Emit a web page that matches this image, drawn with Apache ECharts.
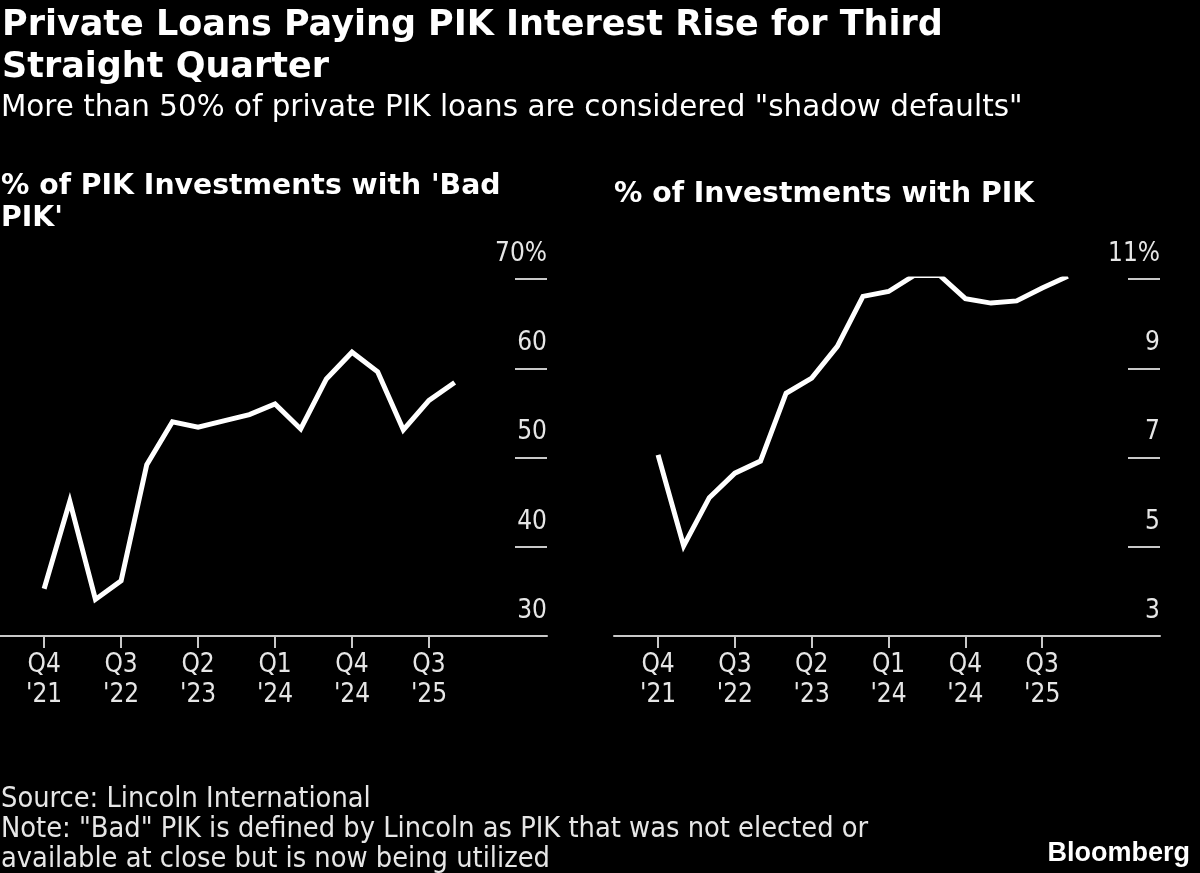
<!DOCTYPE html>
<html>
<head>
<meta charset="utf-8">
<title>Private Loans Paying PIK Interest</title>
<script src="https://cdn.jsdelivr.net/npm/echarts@6/dist/echarts.min.js"></script>
<style>
  html, body { margin: 0; padding: 0; background: #000; }
  #main { width: 1200px; height: 873px; }
</style>
</head>
<body>
<div id="main"></div>
<script>
// quarters, Q4 '21 .. Q4 '25
var quarters = ["Q4 '21", "Q1 '22", "Q2 '22", "Q3 '22", "Q4 '22", "Q1 '23", "Q2 '23", "Q3 '23",
                "Q4 '23", "Q1 '24", "Q2 '24", "Q3 '24", "Q4 '24", "Q1 '25", "Q2 '25", "Q3 '25", "Q4 '25"];
var labelIndexes = [0, 3, 6, 9, 12, 15];

// % of PIK investments with 'bad PIK'
var badPik = [35.3, 45.1, 34.1, 36.2, 49.2, 54.0, 53.4, 54.1, 54.8, 56.0, 53.2, 58.8, 61.8, 59.6, 53.1, 56.4, 58.4];
// % of investments with PIK
var pikShare = [7.06, 5.02, 6.10, 6.65, 6.92, 8.44, 8.78, 9.49, 10.61, 10.72, 11.08, 11.08, 10.56, 10.46, 10.51, 10.80, 11.06];

var leftTicks = [30, 40, 50, 60, 70];
var rightTicks = [3, 5, 7, 9, 11];

var condensed = '"DejaVu Sans Condensed", "DejaVu Sans", sans-serif';
var regular = '"DejaVu Sans", sans-serif';

function pairs(values) {
    return values.map(function (v, i) { return [i, v]; });
}

function xAxisFor(gridIndex) {
    return {
        type: 'value',
        gridIndex: gridIndex,
        min: -1.72,
        max: 19.6,
        splitLine: { show: false },
        axisLine: { show: true, onZero: false, lineStyle: { color: '#c8c8c8', width: 2 } },
        axisTick: {
            show: true,
            customValues: labelIndexes,
            length: 12,
            lineStyle: { color: '#c8c8c8', width: 2 }
        },
        axisLabel: {
            customValues: labelIndexes,
            color: '#e6e6e6',
            fontFamily: condensed,
            fontSize: 26,
            lineHeight: 30,
            margin: 14,
            formatter: function (v) {
                return quarters[Math.round(v)].replace(' ', '\n');
            }
        }
    };
}

function yAxisFor(gridIndex, ticks) {
    var top = ticks[ticks.length - 1];
    return {
        type: 'value',
        gridIndex: gridIndex,
        position: 'right',
        min: ticks[0],
        max: top,
        interval: ticks[1] - ticks[0],
        splitLine: { show: false },
        axisLine: { show: false, onZero: false },
        axisTick: {
            show: true,
            inside: true,
            length: 32,
            lineStyle: { color: '#c8c8c8', width: 2 }
        },
        axisLabel: {
            inside: true,
            margin: 0,
            color: '#e6e6e6',
            fontFamily: condensed,
            fontSize: 26,
            lineHeight: 28,
            verticalAlign: 'bottom',
            padding: [0, 0, 11, 0],
            formatter: function (v) {
                return v === top ? v + '%' : String(v);
            }
        }
    };
}

var chart = echarts.init(document.getElementById('main'));
chart.setOption({
    backgroundColor: '#000',
    animation: false,
    title: [
        {
            text: 'Private Loans Paying PIK Interest Rise for Third\nStraight Quarter',
            left: 2, top: 5, padding: 0,
            textStyle: { color: '#fff', fontFamily: regular, fontWeight: 'bold', fontSize: 35, lineHeight: 42 }
        },
        {
            text: 'More than 50% of private PIK loans are considered "shadow defaults"',
            left: 1, top: 91, padding: 0,
            textStyle: { color: '#fff', fontFamily: regular, fontWeight: 'normal', fontSize: 29.4, lineHeight: 34 }
        },
        {
            text: "% of PIK Investments with 'Bad\nPIK'",
            left: 1, top: 171, padding: 0,
            textStyle: { color: '#fff', fontFamily: regular, fontWeight: 'bold', fontSize: 28.3, lineHeight: 32 }
        },
        {
            text: '% of Investments with PIK',
            left: 614, top: 179, padding: 0,
            textStyle: { color: '#fff', fontFamily: regular, fontWeight: 'bold', fontSize: 28.3, lineHeight: 32 }
        },
        {
            text: 'Source: Lincoln International\nNote: "Bad" PIK is defined by Lincoln as PIK that was not elected or\navailable at close but is now being utilized',
            left: 1, top: 785, padding: 0,
            textStyle: { color: '#e6e6e6', fontFamily: condensed, fontWeight: 'normal', fontSize: 28.7, lineHeight: 30 }
        },
        {
            text: 'Bloomberg',
            right: 10, top: 840, padding: 0,
            textStyle: { color: '#fff', fontFamily: '"Liberation Sans", sans-serif', fontWeight: 'bold', fontSize: 27 }
        }
    ],
    grid: [
        { left: 0, width: 547, top: 279, height: 357 },
        { left: 614, width: 546, top: 279, height: 357 }
    ],
    xAxis: [xAxisFor(0), xAxisFor(1)],
    yAxis: [yAxisFor(0, leftTicks), yAxisFor(1, rightTicks)],
    series: [
        {
            name: "Bad PIK",
            type: 'line',
            xAxisIndex: 0,
            yAxisIndex: 0,
            data: pairs(badPik),
            showSymbol: false,
            lineStyle: { color: '#fff', width: 5, join: 'miter' }
        },
        {
            name: 'Investments with PIK',
            type: 'line',
            xAxisIndex: 1,
            yAxisIndex: 1,
            data: pairs(pikShare),
            showSymbol: false,
            lineStyle: { color: '#fff', width: 5, join: 'miter' }
        }
    ]
});
</script>
</body>
</html>
